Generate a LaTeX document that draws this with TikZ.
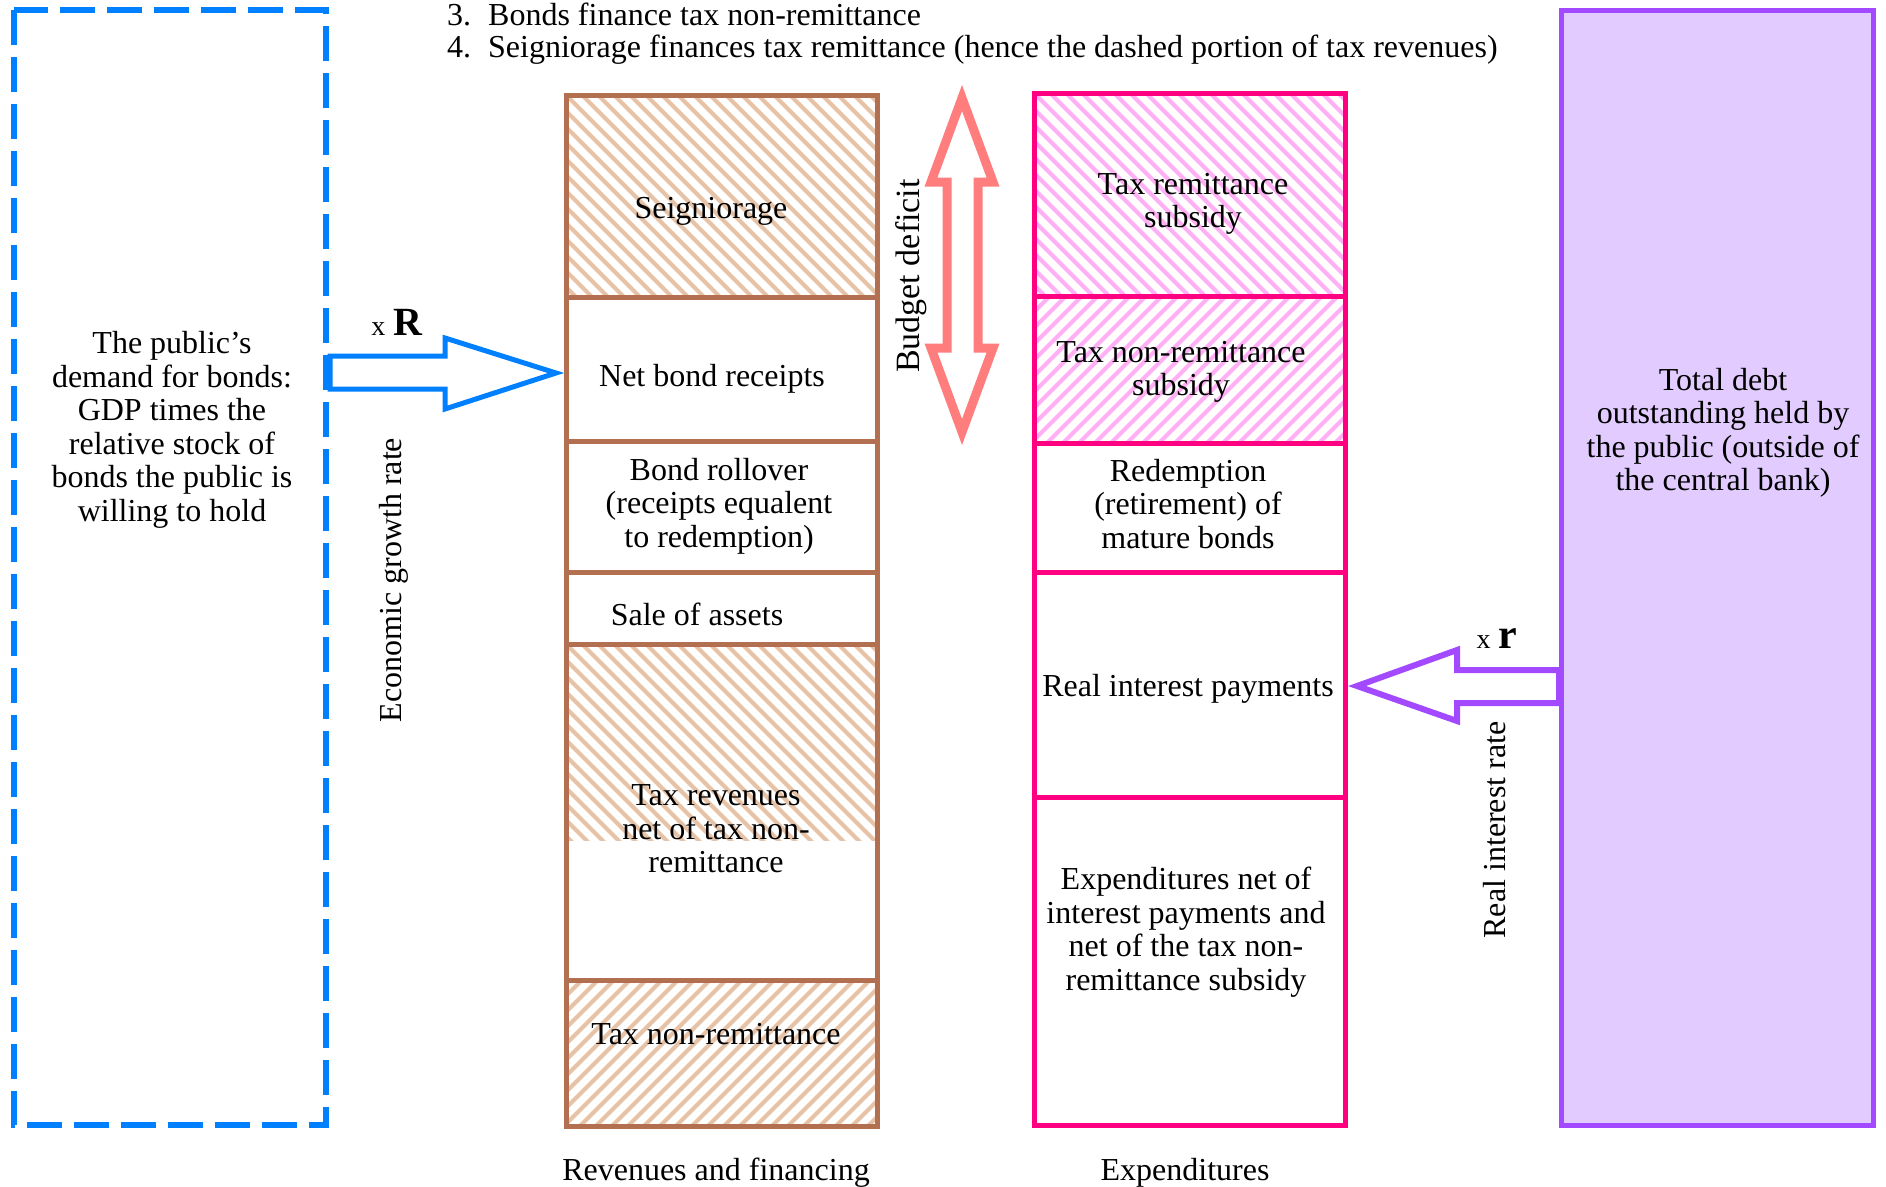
\documentclass[tikz,border=0pt]{standalone}
\usepackage{fontspec}
\setmainfont{Liberation Serif}
\definecolor{bblue}{RGB}{0,128,255}
\definecolor{brn}{RGB}{178,112,80}
\definecolor{brnh}{RGB}{230,194,166}
\definecolor{pnk}{RGB}{255,0,128}
\definecolor{pnkh}{RGB}{255,176,245}
\definecolor{prp}{RGB}{163,73,255}
\definecolor{prpf}{RGB}{226,204,255}
\definecolor{salm}{RGB}{255,125,125}
% manual hatching: #1 colour, #2 direction (+1 = top-left to bottom-right, -1 = other), x1,y1,x2,y2
\newcommand{\myhatch}[6]{%
  \begin{scope}
    \clip (#3,#4) rectangle (#5,#6);
    \foreach \k in {-20,...,40} {
      \draw[#1, line width=4pt] ({#3+\k*16},#4) -- ++({#2*220},220);
    }
  \end{scope}}
\begin{document}
\begin{tikzpicture}[x=1pt,y=-1pt,
  txt/.style={font=\fontsize{32}{33.5}\selectfont, align=center, inner sep=0pt},
  brnbox/.style={draw=brn, line width=5pt},
  pnkbox/.style={draw=pnk, line width=5pt},
  blockarrow/.style={line width=#1, line join=miter, fill=white}
]
\useasboundingbox (0,0) rectangle (1886,1186);
\fill[white] (0,0) rectangle (1886,1186);

% ---- list at top
\node[txt, anchor=west] (l3) at (447,14) {\makebox[41pt][l]{3.}Bonds finance tax non-remittance};
\node[txt, anchor=west] (l4) at (447,50) {\makebox[41pt][l]{4.}Seigniorage finances tax remittance (hence the dashed portion of tax revenues)};

% ---- blue dashed demand box
\draw[bblue, line width=6pt, dash pattern=on 35pt off 12pt] (14,10) rectangle (326,1125);
\node[txt] (demand) at (172,430) {The public’s\\demand for bonds:\\GDP times the\\relative stock of\\bonds the public is\\willing to hold};

% ---- brown column (revenues and financing)
\myhatch{brnh}{1}{566}{95}{877}{297}
\myhatch{brnh}{1}{566}{644}{877}{840}
\myhatch{brnh}{-1}{566}{980}{877}{1126}
\draw[brnbox] (566,95) rectangle (877,1126);
\draw[brnbox] (566,297) -- (877,297);
\draw[brnbox] (566,441) -- (877,441);
\draw[brnbox] (566,572) -- (877,572);
\draw[brnbox] (566,644) -- (877,644);
\draw[brnbox] (566,980) -- (877,980);

\node[txt] (seign) at (711,211) {Seigniorage};
\node[txt] (netbond) at (712,379) {Net bond receipts};
\node[txt] (rollover) at (719,506) {Bond rollover\\(receipts equalent\\to redemption)};
\node[txt] (sale) at (697,614) {Sale of assets};
\node[txt] (taxrev) at (716,829) {Tax revenues\\net of tax non-\\remittance};
\node[txt] (taxnon) at (716,1034) {Tax non-remittance};
\node[txt] (revlab) at (716,1173) {Revenues and financing};

% ---- pink column (expenditures)
\myhatch{pnkh}{1}{1034}{93}{1345}{296}
\myhatch{pnkh}{-1}{1034}{296}{1345}{443}
\draw[pnkbox] (1034,93) rectangle (1345,1125);
\draw[pnkbox] (1034,296) -- (1345,296);
\draw[pnkbox] (1034,443) -- (1345,443);
\draw[pnkbox] (1034,572) -- (1345,572);
\draw[pnkbox] (1034,797) -- (1345,797);

\node[txt] (taxrem) at (1193,204) {Tax remittance\\subsidy};
\node[txt] (taxnonsub) at (1181,372) {Tax non-remittance\\subsidy};
\node[txt] (redemp) at (1188,504) {Redemption\\(retirement) of\\mature bonds};
\node[txt] (realint) at (1188,689) {Real interest payments};
\node[txt] (expnet) at (1186,932) {Expenditures net of\\interest payments and\\net of the tax non-\\remittance subsidy};
\node[txt] (explab) at (1185,1173) {Expenditures};

% ---- purple total debt box
\draw[prp, fill=prpf, line width=5pt] (1561,10) rectangle (1873,1125);
\node[txt] (debt) at (1723,433) {Total debt\\outstanding held by\\the public (outside of\\the central bank)};

% ---- budget deficit double arrow
\draw[salm, blockarrow=9pt] (962,98) -- (993,182) -- (978,182) -- (978,348) -- (993,348)
  -- (962,432) -- (931,348) -- (947,348) -- (947,182) -- (931,182) -- cycle;
\node[txt, rotate=90, font=\fontsize{34}{36}\selectfont] (deficit) at (911,276) {Budget deficit};

% ---- blue block arrow (demand -> net bond receipts)
\draw[bblue, blockarrow=5pt] (330,356) -- (445,356) -- (445,338) -- (556,373)
  -- (445,409) -- (445,389) -- (330,389) -- cycle;
\node[txt, anchor=base] (xR) at (397,335) {{\fontsize{28}{30}\selectfont x} {\fontsize{40}{42}\selectfont\textbf{R}}};
\node[txt, rotate=90] (egr) at (394,580) {Economic growth rate};

% ---- purple block arrow (debt -> real interest payments)
\draw[prp, blockarrow=6pt] (1559,670) -- (1457,670) -- (1457,650) -- (1357,686)
  -- (1457,721) -- (1457,703) -- (1559,703) -- cycle;
\node[txt, anchor=base] (xr) at (1497,648) {{\fontsize{28}{30}\selectfont x} {\fontsize{42}{44}\selectfont\textbf{r}}};
\node[txt, rotate=90] (rir) at (1495,830) {Real interest rate};
\end{tikzpicture}
\end{document}
